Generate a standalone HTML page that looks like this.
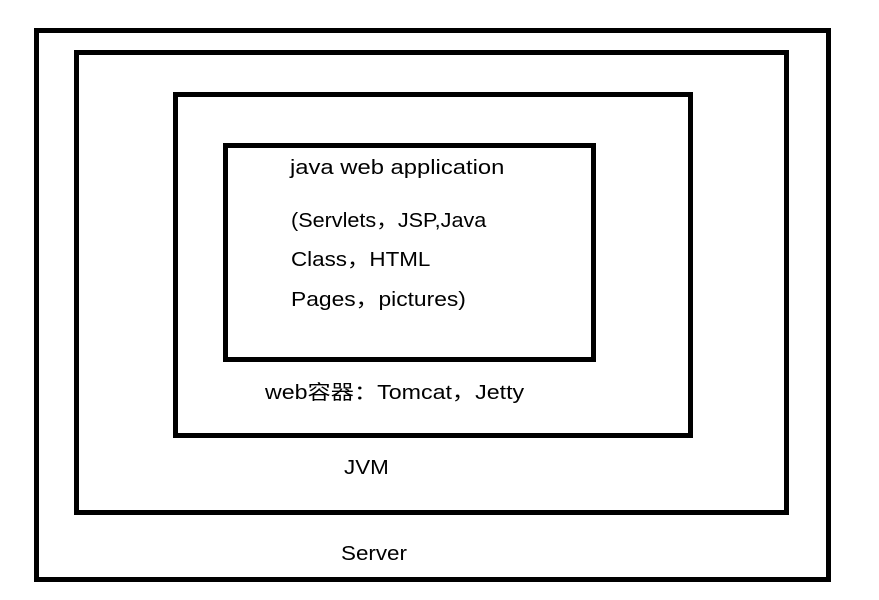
<!DOCTYPE html>
<html><head><meta charset="utf-8"><style>
body{margin:0;width:879px;height:600px;background:#fff;position:relative;overflow:hidden;font-family:"Liberation Sans","Noto Sans CJK SC",sans-serif;}
.b{position:absolute;border:5px solid #000;box-sizing:border-box;}
.t{position:absolute;font-size:20px;color:#000;white-space:nowrap;line-height:24px;transform-origin:0 50%;}
</style></head><body>
<div class="b" style="left:34px;top:28px;width:797px;height:554px"></div>
<div class="b" style="left:74px;top:50px;width:715px;height:465px"></div>
<div class="b" style="left:173px;top:92px;width:520px;height:346px"></div>
<div class="b" style="left:223px;top:143px;width:373px;height:219px"></div>
<div class="t" style="left:290px;top:156px;transform:scaleX(1.19)">java web application</div>
<div class="t" style="left:291px;top:209px;transform:scaleX(1.08)">(Servlets，JSP,Java</div>
<div class="t" style="left:291px;top:248px;transform:scaleX(1.12)">Class，HTML</div>
<div class="t" style="left:291px;top:288px;transform:scaleX(1.14)">Pages，pictures)</div>
<div class="t" style="left:265px;top:381px;transform:scaleX(1.16)">web容器：Tomcat，Jetty</div>
<div class="t" style="left:344px;top:456px;transform:scaleX(1.12)">JVM</div>
<div class="t" style="left:341px;top:542px;transform:scaleX(1.12)">Server</div>
</body></html>
